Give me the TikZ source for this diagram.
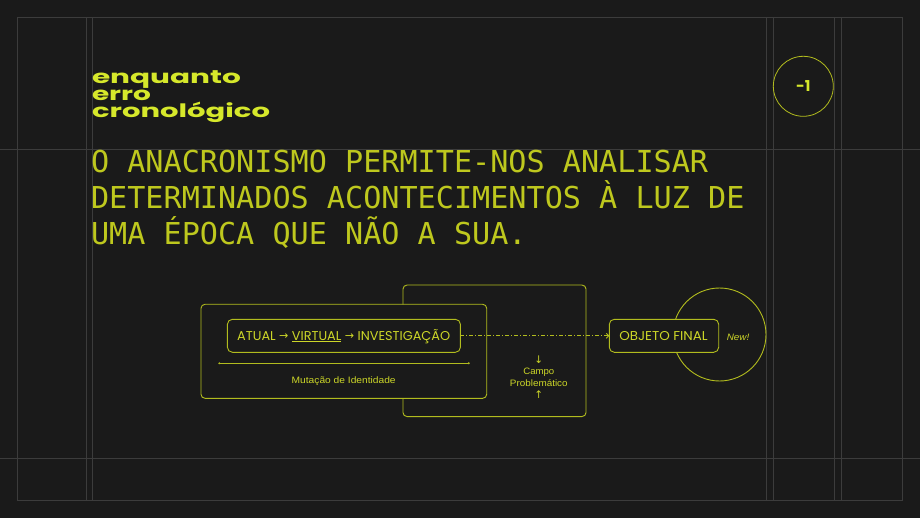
\documentclass[tikz,border=0pt]{standalone}
\usepackage{fontspec}
\usepackage{graphicx}
\usetikzlibrary{arrows.meta}
\setmainfont{Liberation Sans}
\newfontfamily\titlefont{Poppins}
\newfontfamily\headfont{DejaVu Sans Mono}
\newfontfamily\uifont{Poppins}
\newfontfamily\smallfont{Liberation Sans}
\newfontfamily\symfont{DejaVu Sans}
\definecolor{bgc}{RGB}{26,26,26}
\definecolor{gridc}{RGB}{60,60,60}
\definecolor{titlec}{RGB}{214,232,43}
\definecolor{headc}{RGB}{190,200,30}
\definecolor{linec}{RGB}{178,188,30}
\definecolor{txtc}{RGB}{204,214,40}
\newcommand\fitto[2]{\resizebox{#1}{\height}{#2}}
\newcommand\sarr{{\symfont\fontsize{11}{11}\selectfont\raisebox{0.3pt}{→}}}
\begin{document}
\begin{tikzpicture}[x=1pt,y=-1pt,
  gridline/.style={draw=gridc, line width=0.6pt},
  boxshape/.style={draw=linec, line width=0.9pt, rounded corners=4pt, inner sep=0pt, outer sep=0pt, fill=bgc},
  txt/.style={inner sep=0pt, outer sep=0pt, anchor=base},
  titletxt/.style={txt, anchor=base west, text=titlec, font=\titlefont\bfseries\fontsize{18.5}{18.5}\selectfont},
  headtxt/.style={txt, anchor=base west, text=headc, font=\headfont\fontsize{30.15}{30.15}\selectfont},
  uitxt/.style={txt, text=txtc, font=\uifont\fontsize{12.8}{12.8}\selectfont},
  smalltxt/.style={txt, text=txtc, font=\smallfont\fontsize{9.3}{9.3}\selectfont},
  arrtxt/.style={txt, text=txtc, font=\symfont\fontsize{10.5}{10.5}\selectfont}
]
\fill[bgc] (0,0) rectangle (920,518);
\useasboundingbox (0,0) rectangle (920,518);

% grid
\draw[gridline] (17.5,17) rectangle (902,500);
\foreach \gx in {86,92.5,766,773.5,834.5,841.5}
  \draw[gridline] (\gx,17) -- (\gx,500);
\foreach \gy in {149,458}
  \draw[gridline] (0,\gy) -- (920,\gy);

% title
\node[titletxt] (t1) at (92,83.3) {\fitto{149pt}{enquanto}};
\node[titletxt] (t2) at (92,100.5) {\fitto{59pt}{erro}};
\node[titletxt] (t3) at (92,117.7) {\fitto{178pt}{cronológico}};

% page number
\node[circle, draw=linec, line width=0.8pt, minimum size=60pt, inner sep=0pt] (numc) at (803.3,86.3) {};
\node[inner sep=0pt, text=titlec, font=\titlefont\bfseries\fontsize{15}{15}\selectfont] (num) at (numc.center) {-1};

% heading
\node[headtxt] (h1) at (91,173) {O ANACRONISMO PERMITE-NOS ANALISAR};
\node[headtxt] (h2) at (91,209) {DETERMINADOS ACONTECIMENTOS À LUZ DE};
\node[headtxt] (h3) at (91,245) {UMA ÉPOCA QUE NÃO A SUA.};

% diagram
\node[boxshape, minimum width=183pt, minimum height=131.5pt] (boxB) at (494.5,350.8) {};
\node[circle, draw=linec, line width=0.9pt, minimum size=93pt, inner sep=0pt] (circ) at (719.5,334.5) {};
\node[boxshape, minimum width=285.7pt, minimum height=94pt] (boxA) at (343.85,351.3) {};
\node[boxshape, rounded corners=5pt, minimum width=233pt, minimum height=33pt] (inner) at (343.9,335.8) {};
\node[boxshape, rounded corners=5pt, minimum width=109.4pt, minimum height=33pt] (obj) at (664,335.8) {};

\node[uitxt] (flow) at (343.7,340) {\fitto{213pt}{ATUAL \sarr{} \underline{VIRTUAL} \sarr{} INVESTIGAÇÃO}};
\node[uitxt] (objt) at (663.5,340.2) {\fitto{88.5pt}{OBJETO FINAL}};

\draw[linec, line width=0.8pt, dash pattern=on 4pt off 2pt on 1pt off 2pt, -{Straight Barb[length=2.5pt,width=5pt]}] (inner.east) -- (obj.west);

\coordinate (sepL) at (219.3,363.3);
\coordinate (sepR) at (468.7,363.3);
\draw[linec, line width=0.8pt] (sepL) -- (sepR);
\fill[linec] (sepL) circle (1.1pt) (sepR) circle (1.1pt);

\node[smalltxt] (mut) at (343.7,383.3) {\fitto{104pt}{Mutação de Identidade}};
\node[arrtxt] (down) at (538.8,363) {↓};
\node[smalltxt] (campo) at (538.8,374.3) {\fitto{31pt}{Campo}};
\node[smalltxt] (probl) at (538.8,386) {\fitto{57.7pt}{Problemático}};
\node[arrtxt] (up) at (538.8,398) {↑};
\node[smalltxt, font=\smallfont\itshape\fontsize{9.3}{9.3}\selectfont] (new) at (738,340) {\fitto{22.5pt}{New!}};
\end{tikzpicture}
\end{document}
